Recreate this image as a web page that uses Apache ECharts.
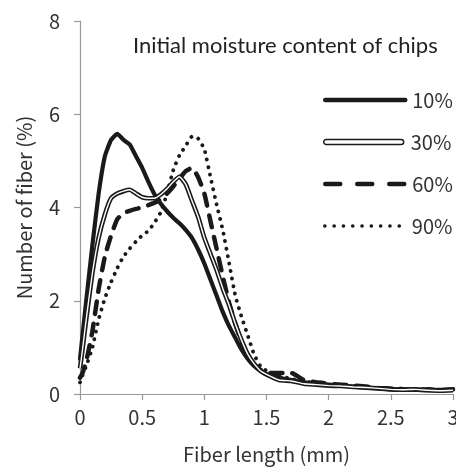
<!DOCTYPE html>
<html><head><meta charset="utf-8">
<script src="https://cdn.jsdelivr.net/npm/echarts@6/dist/echarts.min.js"></script>
<style>html,body{margin:0;padding:0;background:#fff}#c{width:456px;height:470px}</style>
</head><body><div id="c"></div>
<script>
// Fiber length (mm)
const fiberLength = [0, 0.02, 0.05, 0.1, 0.15, 0.2, 0.25, 0.3, 0.35, 0.4, 0.45, 0.5, 0.55, 0.6, 0.65, 0.7, 0.75, 0.8, 0.85, 0.9, 0.95, 1.0, 1.05, 1.1, 1.15, 1.2, 1.25, 1.3, 1.35, 1.4, 1.45, 1.5, 1.6, 1.7, 1.8, 1.9, 2.0, 2.1, 2.2, 2.3, 2.4, 2.5, 2.6, 2.7, 2.8, 2.9, 3.0];
// Number of fiber (%) per initial moisture content of chips
const mc10 = [0.75, 1.25, 2.0, 3.2, 4.3, 5.1, 5.45, 5.58, 5.45, 5.35, 5.1, 4.85, 4.55, 4.28, 4.08, 3.92, 3.78, 3.66, 3.52, 3.35, 3.1, 2.8, 2.45, 2.1, 1.75, 1.45, 1.2, 0.95, 0.75, 0.6, 0.5, 0.42, 0.35, 0.3, 0.25, 0.22, 0.2, 0.18, 0.16, 0.13, 0.12, 0.1, 0.1, 0.09, 0.08, 0.09, 0.1];
const mc30 = [0.55, 0.95, 1.6, 2.6, 3.35, 3.85, 4.2, 4.3, 4.35, 4.38, 4.3, 4.22, 4.2, 4.2, 4.28, 4.4, 4.55, 4.66, 4.5, 4.15, 3.8, 3.35, 3.0, 2.65, 2.25, 1.9, 1.5, 1.15, 0.85, 0.65, 0.5, 0.42, 0.3, 0.28, 0.22, 0.2, 0.18, 0.17, 0.15, 0.14, 0.12, 0.1, 0.09, 0.1, 0.08, 0.07, 0.08];
const mc60 = [0.35, 0.45, 0.7, 1.35, 2.25, 2.95, 3.4, 3.75, 3.88, 3.93, 3.97, 4.0, 4.05, 4.1, 4.18, 4.3, 4.45, 4.62, 4.78, 4.85, 4.65, 4.3, 3.7, 3.1, 2.5, 1.95, 1.5, 1.1, 0.8, 0.62, 0.52, 0.45, 0.45, 0.45, 0.3, 0.25, 0.22, 0.2, 0.18, 0.16, 0.13, 0.12, 0.1, 0.09, 0.1, 0.08, 0.1];
const mc90 = [0.25, 0.4, 0.6, 1.0, 1.6, 2.05, 2.4, 2.7, 2.95, 3.12, 3.27, 3.4, 3.5, 3.68, 3.9, 4.3, 4.8, 5.12, 5.32, 5.52, 5.48, 5.25, 4.65, 4.05, 3.5, 2.8, 2.1, 1.65, 1.25, 0.85, 0.6, 0.5, 0.4, 0.32, 0.28, 0.22, 0.2, 0.19, 0.17, 0.15, 0.13, 0.12, 0.11, 0.1, 0.1, 0.09, 0.1];
const legendTitle = 'Initial moisture content of chips';
const seriesNames = ['10%', '30%', '60%', '90%'];

const pairs = ys => fiberLength.map((x, i) => [x, ys[i]]);
const numFont = 'Noto Sans CJK JP';
const ink = '#1a1a1a';
const styles = [
  {color: ink, width: 4.2, type: 'solid', cap: 'round'},
  {color: ink, width: 4.6, type: 'solid'},
  {color: ink, width: 4.5, type: [12, 10], cap: 'round'},
  {color: ink, width: 3.8, type: [0.1, 7.5], cap: 'round'}
];
const legendStyles = [
  {color: ink, width: 4.5, type: 'solid', cap: 'round'},
  null,
  {color: ink, width: 4.5, type: [15, 17], cap: 'round'},
  {color: ink, width: 3.6, type: [0.1, 9.2], cap: 'round'}
];

const chart = echarts.init(document.getElementById('c'), null, {renderer: 'canvas'});
const textStyle = {fontFamily: numFont, fontSize: 20, color: '#333', lineHeight: 24, padding: [0, 0, 0, 2]};
const lineLegend = (i, center) => ({
  data: [{name: seriesNames[i], lineStyle: legendStyles[i], itemStyle: {opacity: 0}}],
  left: 323, top: center - 12, orient: 'vertical', padding: 0,
  itemWidth: 80, itemHeight: 10, itemGap: 0, selectedMode: false,
  itemStyle: {opacity: 0}, lineStyle: legendStyles[i], textStyle
});
chart.setOption({
  animation: false,
  backgroundColor: '#fff',
  title: {text: legendTitle, left: 133, top: 35, padding: 0,
    textStyle: {fontFamily: 'Lato', fontWeight: 'normal', fontSize: 22, color: '#222'}},
  grid: {left: 80, right: 3, top: 21, bottom: 76, containLabel: false, outerBoundsMode: 'none'},
  legend: [
    lineLegend(0, 100),
    {data: [{name: seriesNames[1], icon: 'path://M2,0 H78 A2.5,2.5 0 0 1 78,5 H2 A2.5,2.5 0 0 1 2,0 Z',
        itemStyle: {color: '#fff', borderColor: ink, borderWidth: 1.4, opacity: 1}}],
      left: 323, top: 142 - 12, orient: 'vertical', padding: 0, itemWidth: 80, itemHeight: 5, selectedMode: false,
      textStyle},
    lineLegend(2, 184),
    lineLegend(3, 226)
  ],
  xAxis: {
    type: 'value', min: 0, max: 3, interval: 0.5,
    name: 'Fiber length (mm)', nameLocation: 'middle', nameGap: 50,
    nameTextStyle: {fontFamily: numFont, fontSize: 20, color: '#333'},
    axisLine: {lineStyle: {color: '#999', width: 1.2}},
    axisTick: {show: true, length: 6, lineStyle: {color: '#999', width: 1.2}},
    axisLabel: {fontFamily: numFont, fontSize: 20, color: '#333', margin: 13},
    splitLine: {show: false}
  },
  yAxis: {
    type: 'value', min: 0, max: 8, interval: 2,
    name: 'Number of fiber (%)', nameLocation: 'middle', nameGap: 46,
    nameTextStyle: {fontFamily: numFont, fontSize: 20, color: '#333'},
    axisLine: {show: true, lineStyle: {color: '#999', width: 1.2}},
    axisTick: {show: true, length: 6, lineStyle: {color: '#999', width: 1.2}},
    axisLabel: {fontFamily: numFont, fontSize: 20, color: '#333', margin: 20},
    splitLine: {show: false}
  },
  series: [
    {name: seriesNames[3], type: 'line', data: pairs(mc90), symbol: 'none', smooth: 0.15, lineStyle: styles[3]},
    {name: seriesNames[2], type: 'line', data: pairs(mc60), symbol: 'none', smooth: 0.15, lineStyle: styles[2]},
    {name: seriesNames[0], type: 'line', data: pairs(mc10), symbol: 'none', smooth: 0.15, lineStyle: styles[0]},
    {name: seriesNames[1], type: 'line', data: pairs(mc30), symbol: 'none', smooth: 0.15, lineStyle: styles[1]},
    {name: seriesNames[1] + ' ', type: 'line', data: pairs(mc30), symbol: 'none', smooth: 0.15,
      lineStyle: {color: '#fff', width: 1.4}, silent: true}
  ]
});
</script>
</body></html>
